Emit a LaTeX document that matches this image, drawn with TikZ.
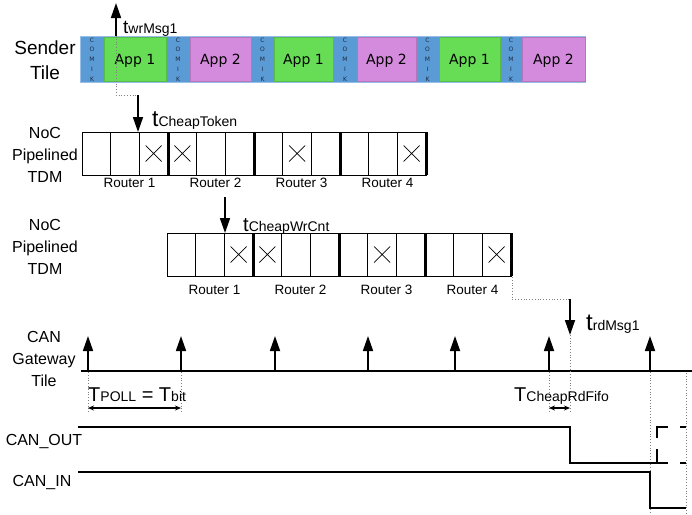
\documentclass[tikz,border=0pt]{standalone}
\usepackage{fontspec}
\setmainfont{Liberation Sans}
\newfontfamily\dejavu{DejaVu Sans}
\usetikzlibrary{arrows.meta}
\definecolor{comikblue}{RGB}{91,155,213}
\definecolor{comikedge}{RGB}{150,190,230}
\definecolor{comiktext}{RGB}{30,42,65}
\definecolor{appgreen}{RGB}{102,221,85}
\definecolor{apppink}{RGB}{213,139,221}
\newcommand{\myfs}[2]{\fontsize{#1}{#2}\selectfont}
\tikzset{
  sigarrow/.style={line width=1.7pt, -{Triangle[length=15pt,width=10pt]}},
  guide/.style={gray, dotted, line width=0.8pt},
  cellline/.style={line width=0.9pt},
  routerline/.style={line width=3pt},
  xmark/.style={line width=0.7pt},
  routerlbl/.style={inner sep=0pt, font=\myfs{13.5}{15}},
  lbl/.style={inner sep=0pt, align=center},
  appbox/.style={inner sep=0pt, minimum height=44pt, text depth=0pt, font=\dejavu\myfs{14}{16}},
  comik/.style={inner sep=0pt, align=center, text=comiktext, font=\dejavu\myfs{6}{9.75}},
  tlabel/.style={inner sep=0pt, anchor=base west},
  wave/.style={line width=2pt},
  span/.style={line width=1.2pt, {Stealth[length=6pt,width=5pt]}-{Stealth[length=6pt,width=5pt]}}
}
\newcommand{\nocrow}[4]{%
 \begin{scope}[shift={(#2,#3)}]
  \draw[cellline] (0,0) rectangle (344,43);
  \foreach \k in {1,2,4,5,7,8,10,11} \draw[cellline] (\k*28.667,0) -- (\k*28.667,43);
  \foreach \k in {3,6,9,12} \draw[routerline] (\k*28.667,0) -- (\k*28.667,43);
  \foreach \k in {3,4,8,12} \draw[xmark] ({(\k-0.5)*28.667-8},13.5) -- ++(16,16) ({(\k-0.5)*28.667-8},29.5) -- ++(16,-16);
  \foreach \k in {1,...,4} \node[routerlbl] (#1r\k) at ({(\k-0.5)*86+4.5},{43+#4}) {Router \k};
 \end{scope}}
\begin{document}
\begin{tikzpicture}[x=1pt,y=-1pt]
\fill[white] (0,0) rectangle (692,514);
\useasboundingbox (0,0) rectangle (692,514);

% ---------- Sender tile ----------
\node[lbl, font=\myfs{19}{25}] (sender) at (45,60.5) {Sender\\Tile};
\fill[comikblue] (80,36) rectangle (585,82);
\draw[comikedge, line width=0.6pt] (80,36) rectangle (585,82);
\foreach \cx/\w/\col/\t [count=\i] in {135/62/appgreen/1, 220.5/61/apppink/2, 303.5/59/appgreen/1, 386.5/59/apppink/2, 469.5/61/appgreen/1, 553.5/63/apppink/2}
  \node[appbox, fill=\col, draw=\col!85!black, line width=0.4pt, minimum width=\w pt] (app\i) at (\cx,59) {App \t};
\foreach \cx [count=\i] in {92,178,262.5,345,427.5,511}
  \node[comik] (cm\i) at (\cx,59.5) {C\\O\\M\\I\\K};

\coordinate (wrbase) at (116,36);
\coordinate (wrtop) at (116,3);
\draw[sigarrow] (wrbase) -- (wrtop);
\node[tlabel] (twr) at (123,33) {\myfs{19}{20}t\myfs{14}{16}wrMsg1};

% ---------- NoC 1 ----------
\node[lbl, font=\myfs{16}{22}] (noc1lbl) at (45,155) {NoC\\Pipelined\\TDM};
\nocrow{na}{82}{132}{8}
\coordinate (g1a) at (116,95);
\coordinate (g1b) at (138,95);
\coordinate (g1c) at (138,132);
\draw[guide] (wrbase) -- (g1a) -- (g1b);
\draw[sigarrow] (g1b) -- (g1c);
\node[tlabel] (ttok) at (152,126) {\myfs{23}{24}t\myfs{14}{16}CheapToken};

% ---------- NoC 2 ----------
\node[lbl, font=\myfs{16}{22}] (noc2lbl) at (45,247) {NoC\\Pipelined\\TDM};
\nocrow{nb}{167}{233}{14}
\coordinate (w2a) at (225,197);
\coordinate (w2b) at (225,233);
\draw[sigarrow] (w2a) -- (w2b);
\node[tlabel] (twc) at (243,231) {\myfs{20}{22}t\myfs{14}{16}CheapWrCnt};

\coordinate (g2a) at (512,277);
\coordinate (g2b) at (512,299);
\coordinate (g2c) at (570,299);
\coordinate (g2d) at (570,335);
\draw[guide] (g2a) -- (g2b) -- (g2c);
\draw[sigarrow] (g2c) -- (g2d);
\node[tlabel] (trd) at (586,330) {\myfs{24}{26}t\myfs{14}{16}rdMsg1};

% ---------- CAN gateway tile ----------
\node[lbl, font=\myfs{16}{22}] (canlbl) at (44,359) {CAN\\Gateway\\Tile};
\coordinate (tl0) at (81,371);
\coordinate (tl1) at (692,371);
\draw[line width=2.3pt] (tl0) -- (tl1);
\foreach \x [count=\i] in {88,181,275,368,455,549,650} {
  \coordinate (pa\i) at (\x,370);
  \coordinate (pb\i) at (\x,336);
  \draw[sigarrow] (pa\i) -- (pb\i);
}
\coordinate (d1a) at (88,372);  \coordinate (d1b) at (88,412);
\coordinate (d2a) at (181,372); \coordinate (d2b) at (181,412);
\coordinate (d6a) at (549,372); \coordinate (d6b) at (549,413);
\coordinate (d8b) at (570,413);
\coordinate (d7a) at (650,372); \coordinate (d7b) at (650,514);
\coordinate (d9a) at (686,373); \coordinate (d9b) at (686,514);
\draw[guide] (d1a) -- (d1b);
\draw[guide] (d2a) -- (d2b);
\draw[guide] (d6a) -- (d6b);
\draw[guide] (g2d) -- (d8b);
\draw[guide] (d7a) -- (d7b);
\draw[guide] (d9a) -- (d9b);

\coordinate (s1a) at (88,408);  \coordinate (s1b) at (181,408);
\coordinate (s2a) at (549,408); \coordinate (s2b) at (570,408);
\draw[span] (s1a) -- (s1b);
\draw[span] (s2a) -- (s2b);
\node[tlabel] (tpoll) at (88,401) {\myfs{20}{22}T\myfs{14}{16}POLL\myfs{20}{22} = T\myfs{14}{16}bit};
\node[tlabel] (tfifo) at (514,401) {\myfs{20}{22}T\myfs{14}{16}CheapRdFifo};

% ---------- CAN_OUT / CAN_IN ----------
\node[inner sep=0pt, anchor=base, font=\myfs{16}{18}] (canout) at (44,445.7) {CAN\_OUT};
\node[inner sep=0pt, anchor=base, font=\myfs{16}{18}] (canin) at (42,486.7) {CAN\_IN};
\coordinate (o0) at (78,427);
\coordinate (o1) at (570,427);
\coordinate (o2) at (570,463);
\coordinate (o3) at (668,463);
\draw[wave] (o0) -- (o1) -- (o2) -- (o3);
% dashed possible rising edge
\coordinate (q1) at (657,463);
\coordinate (q2) at (657,449);
\coordinate (q3) at (657,438);
\coordinate (q4) at (657,427);
\coordinate (q5) at (668,427);
\coordinate (q6) at (680,427);
\coordinate (q7) at (686,427);
\coordinate (q8) at (680,463);
\coordinate (q9) at (686,463);
\draw[wave] (q1) -- (q2);
\draw[wave] (q3) -- (q4) -- (q5);
\draw[wave] (q6) -- (q7);
\draw[wave] (q8) -- (q9);
\coordinate (i0) at (78,471.5);
\coordinate (i1) at (650,471.5);
\coordinate (i2) at (650,508);
\coordinate (i3) at (686,508);
\draw[wave] (i0) -- (i1) -- (i2) -- (i3);
\end{tikzpicture}
\end{document}
